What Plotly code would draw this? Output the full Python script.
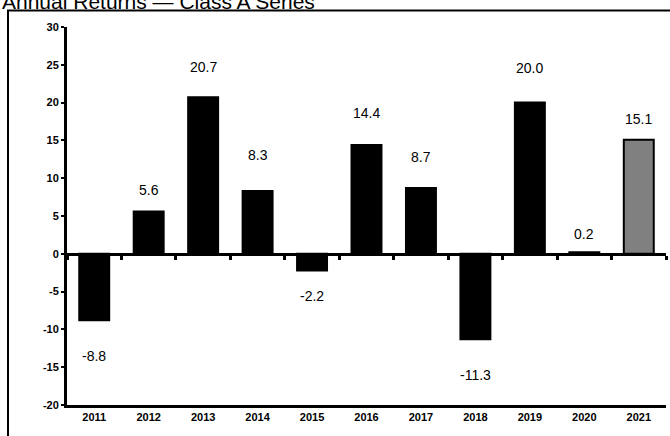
import plotly.graph_objects as go

years = ["2011", "2012", "2013", "2014", "2015", "2016", "2017", "2018", "2019", "2020", "2021"]
returns = [-8.8, 5.6, 20.7, 8.3, -2.2, 14.4, 8.7, -11.3, 20.0, 0.2, 15.1]
value_labels = ["-8.8", "5.6", "20.7", "8.3", "-2.2", "14.4", "8.7", "-11.3", "20.0", "0.2", "15.1"]
y_ticks = [-20, -15, -10, -5, 0, 5, 10, 15, 20, 25, 30]
y_tick_text = ["-20", "-15", "-10", "-5", "0", "5", "10", "15", "20", "25", "30"]
title_text = "Annual Returns \u2014 Class A Series"

# styling
bar_colors = ["#000000"] * 10 + ["#808080"]
label_gap = [36, 21, 30, 36, 26, 32, 31, 36, 35, 18, 21]
x_range = [-0.5, len(years) - 0.5]

fig = go.Figure()
fig.add_trace(go.Bar(
    x=years, y=returns,
    marker=dict(color=bar_colors, line=dict(color="#000000", width=2)),
    width=0.55, showlegend=False, hoverinfo="skip",
))
# invisible trace to carry the zero-line axis
fig.add_trace(go.Scatter(x=years, y=[0] * len(years), xaxis="x2", mode="markers",
                         marker=dict(opacity=0, size=1),
                         showlegend=False, hoverinfo="skip"))

for i, (v, lab, g) in enumerate(zip(returns, value_labels, label_gap)):
    fig.add_annotation(x=i, y=v, text=lab, showarrow=False,
                       yshift=g if v >= 0 else -g, yanchor="middle",
                       font=dict(family="Arial, Liberation Sans", size=14, color="#000000"))

fig.add_annotation(xref="paper", yref="paper", x=0, y=1, xshift=-67, yshift=12,
                   xanchor="left", yanchor="bottom", text=title_text, showarrow=False,
                   font=dict(family="Arial, Liberation Sans", size=21, color="#000000"))

fig.add_shape(type="rect", xref="paper", yref="paper",
              x0=(8 - 67) / 599, x1=1.2, y0=-0.3, y1=1 + (27 - 10.5) / 378,
              line=dict(color="#000000", width=2), layer="above")

fig.update_layout(
    width=670, height=436,
    margin=dict(l=67, r=4, t=27, b=31, pad=0),
    plot_bgcolor="white", paper_bgcolor="white",
    xaxis=dict(type="category", categoryorder="array", categoryarray=years, range=x_range,
               showline=True, linecolor="#000000", linewidth=3, ticks="",
               showgrid=False, zeroline=False,
               tickfont=dict(family="Arial, Liberation Sans", size=11, color="#000000", weight="bold")),
    xaxis2=dict(type="category", categoryorder="array", categoryarray=years, range=x_range,
                overlaying="x", anchor="free", position=0.4, side="bottom",
                showline=True, linecolor="#000000", linewidth=3,
                ticks="outside", tickson="boundaries", ticklen=4, tickwidth=3, tickcolor="#000000",
                showticklabels=False, showgrid=False, zeroline=False),
    yaxis=dict(range=[-20, 30], tickvals=y_ticks, ticktext=y_tick_text,
               showline=True, linecolor="#000000", linewidth=3,
               ticks="outside", ticklen=3, tickwidth=2, tickcolor="#000000",
               showgrid=False, zeroline=False,
               tickfont=dict(family="Arial, Liberation Sans", size=11, color="#000000", weight="bold")),
)

fig.write_html("out.html")
